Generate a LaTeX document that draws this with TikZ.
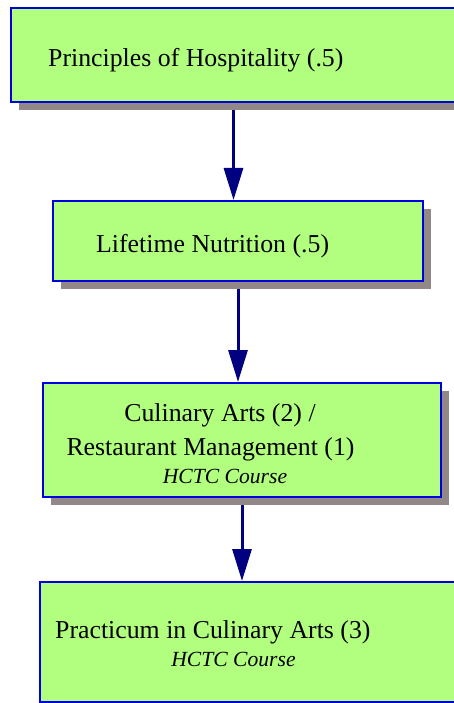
\documentclass[tikz,border=0pt]{standalone}
\usepackage{fontspec}
\setmainfont{Liberation Serif}
\usepackage{tikz}
\usetikzlibrary{arrows.meta,shadows,backgrounds}

\definecolor{boxgreen}{RGB}{178,255,128}
\definecolor{boxblue}{RGB}{0,0,224}
\definecolor{shadowgray}{RGB}{146,136,136}
\definecolor{arrownavy}{RGB}{0,0,128}

\begin{document}
\begin{tikzpicture}[x=1pt, y=-1pt,
  course/.style={draw=boxblue, line width=2pt, fill=boxgreen, inner sep=0pt,
    drop shadow={shadow xshift=8pt, shadow yshift=-8pt, fill=shadowgray, opacity=1}},
  title/.style={font=\fontsize{25.8}{30}\selectfont, inner sep=0pt},
  note/.style={font=\fontsize{21.6}{26}\selectfont\itshape, inner sep=0pt},
  link/.style={-{Triangle[width=19pt, length=32pt]}, line width=3pt, arrownavy}]
  \useasboundingbox (0,0) rectangle (453,703);
  % course boxes
  \node[course, minimum width=445pt, minimum height=94pt] (hosp) at (233.5,55) {};
  \node[course, minimum width=370pt, minimum height=80pt] (nutr) at (238,241) {};
  \node[course, minimum width=398pt, minimum height=114pt] (culi) at (242,440) {};
  \node[course, minimum width=430pt, minimum height=120pt] (prac) at (255,642) {};
  % box texts
  \node[title, anchor=base west] (hosptext) at (48,67) {Principles of Hospitality (.5)};
  \node[title, anchor=base west] (nutrtext) at (96,252) {Lifetime Nutrition (.5)};
  \node[title, anchor=base] (culitext) at (220,421) {Culinary Arts (2) /};
  \node[title, anchor=base] (resttext) at (210.5,455) {Restaurant Management (1)};
  \node[note, anchor=base] (culinote) at (225,483) {HCTC Course};
  \node[title, anchor=base west] (practext) at (55,638) {Practicum in Culinary Arts (3)};
  \node[note, anchor=base] (pracnote) at (233.5,666) {HCTC Course};
  % sequence arrows
  \begin{scope}[on background layer]
    \draw[link] (hosp.south) -- (hosp.south |- nutr.north);
    \draw[link] (nutr.south) -- (nutr.south |- culi.north);
    \draw[link] (culi.south) -- (culi.south |- prac.north);
  \end{scope}
\end{tikzpicture}
\end{document}
